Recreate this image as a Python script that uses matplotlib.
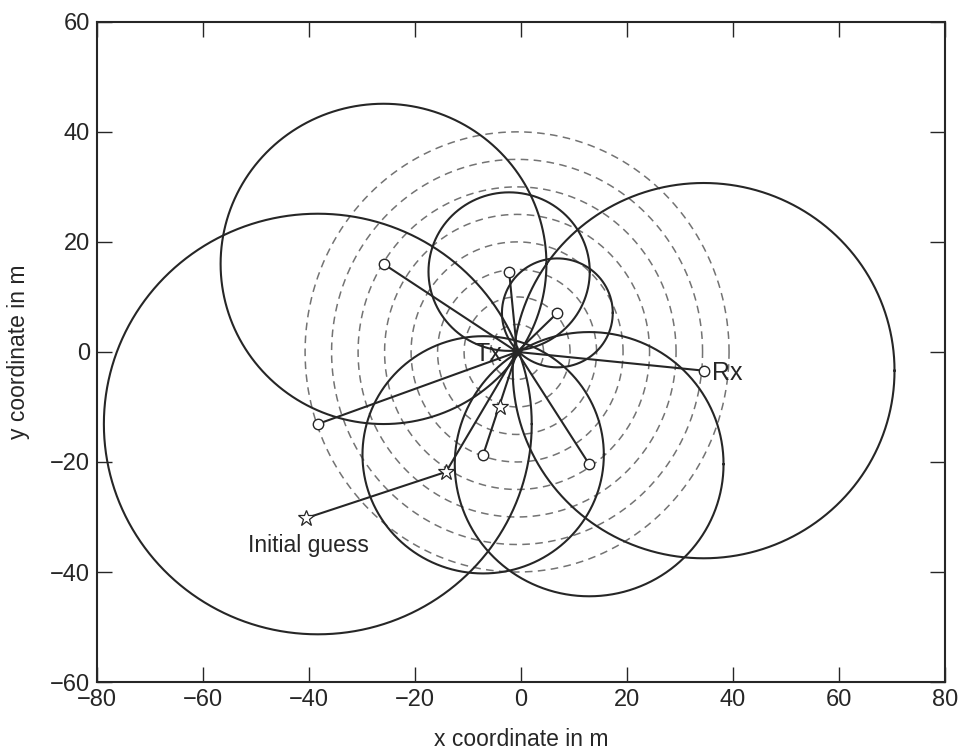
import matplotlib.pyplot as plt
import numpy as np

plt.rcParams['font.family'] = ['Liberation Sans', 'DejaVu Sans']

# receiver positions (m) and the range circle drawn round each one
rx_x = [-38.3, -25.9, -2.2, 6.9, 34.5, -7.1, 12.9]
rx_y = [-13.1, 16.0, 14.6, 7.1, -3.4, -18.7, -20.4]
rx_r = [39.0, 29.7, 14.7, 10.1, 34.8, 22.0, 24.5]

# transmitter estimate and the iterates of the search
tx_x, tx_y = -0.7, 0.0
guess_x = [-40.5, -14.1, -4.0]
guess_y = [-30.2, -21.8, -10.0]

# dashed range rings round the transmitter
ring_r = [5, 10, 15, 20, 25, 30, 35, 40]

ink = '#262626'
grey = '#737373'

fig = plt.figure(figsize=(9.68, 7.52), dpi=100)
ax = fig.add_axes([0.100, 0.093, 0.876, 0.878])

t = np.linspace(0, 2 * np.pi, 721)

for r in ring_r:
    ax.plot(tx_x + r * np.cos(t), tx_y + r * np.sin(t), '--', color=grey,
            lw=1.1, dashes=(5, 3.5))

# the scanned circles come out a touch wider than tall
kx, ky = 1.035, 0.98
for cx, cy, r in zip(rx_x, rx_y, rx_r):
    ax.plot(cx + kx * r * np.cos(t), cy + ky * r * np.sin(t), '-',
            color=ink, lw=1.5)

# lines from each receiver to the transmitter
for cx, cy in zip(rx_x, rx_y):
    ax.plot([cx, tx_x], [cy, tx_y], '-', color=ink, lw=1.5)

# search path: initial guess -> second iterate -> final
ax.plot([guess_x[0], guess_x[1], tx_x], [guess_y[0], guess_y[1], tx_y],
        '-', color=ink, lw=1.5)

ax.plot(rx_x, rx_y, 'o', ms=7.5, mfc='white', mec=ink, mew=1.0, ls='none')
ax.plot(guess_x, guess_y, '*', ms=12, mfc='white', mec=ink, mew=0.9, ls='none')
ax.plot([tx_x], [tx_y], '*', ms=8, color=ink, ls='none')

ax.text(tx_x - 2.8, tx_y - 0.3, 'Tx', fontsize=18, color=ink,
        ha='right', va='center')
ax.text(rx_x[4] + 1.6, rx_y[4] - 0.4, 'Rx', fontsize=18, color=ink,
        ha='left', va='center')
ax.text(guess_x[0] + 0.5, guess_y[0] - 5.0, 'Initial guess', fontsize=16.5,
        color=ink, ha='center', va='center')

ax.set_xlim(-80, 80)
ax.set_ylim(-60, 60)
ax.set_xticks(np.arange(-80, 81, 20))
ax.set_yticks(np.arange(-60, 61, 20))
ax.set_xticklabels([str(v).replace('-', '\u2212') for v in range(-80, 81, 20)])
ax.set_yticklabels([str(v).replace('-', '\u2212') for v in range(-60, 61, 20)])
ax.tick_params(direction='in', length=11, width=1.0, color=ink,
               labelsize=17, labelcolor=ink, top=True, right=True, pad=5)
for s in ax.spines.values():
    s.set_color(ink)
    s.set_linewidth(1.5)

ax.set_xlabel('x coordinate in m', fontsize=16.5, color=ink, labelpad=12)
ax.set_ylabel('y coordinate in m', fontsize=16.5, color=ink, labelpad=14)

fig.savefig('out.png', dpi=100)
